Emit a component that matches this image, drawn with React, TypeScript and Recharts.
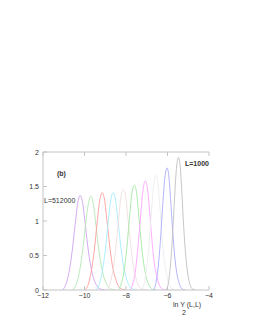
import React from 'react';
import { LineChart, Line, XAxis, YAxis } from 'recharts';

// peaks from L=512000 (left) down to L=1000 (right)
const curve512000 = [
  { x: -11.05, y: 0 }, { x: -10.9, y: 0.08 }, { x: -10.75, y: 0.25 }, { x: -10.6, y: 0.55 },
  { x: -10.45, y: 0.95 }, { x: -10.33, y: 1.25 }, { x: -10.21, y: 1.37 }, { x: -10.1, y: 1.28 },
  { x: -9.98, y: 1.0 }, { x: -9.85, y: 0.65 }, { x: -9.7, y: 0.35 }, { x: -9.55, y: 0.16 },
  { x: -9.4, y: 0.06 }, { x: -9.2, y: 0.01 }, { x: -9.0, y: 0 },
];
const curve256000 = [
  { x: -10.55, y: 0 }, { x: -10.4, y: 0.08 }, { x: -10.25, y: 0.25 }, { x: -10.1, y: 0.55 },
  { x: -9.95, y: 0.95 }, { x: -9.82, y: 1.24 }, { x: -9.7, y: 1.36 }, { x: -9.59, y: 1.27 },
  { x: -9.47, y: 1.0 }, { x: -9.34, y: 0.65 }, { x: -9.19, y: 0.35 }, { x: -9.04, y: 0.16 },
  { x: -8.89, y: 0.06 }, { x: -8.7, y: 0.01 }, { x: -8.5, y: 0 },
];
const curve128000 = [
  { x: -9.97, y: 0 }, { x: -9.82, y: 0.08 }, { x: -9.68, y: 0.26 }, { x: -9.53, y: 0.57 },
  { x: -9.39, y: 0.98 }, { x: -9.27, y: 1.29 }, { x: -9.15, y: 1.41 }, { x: -9.04, y: 1.32 },
  { x: -8.93, y: 1.04 }, { x: -8.8, y: 0.68 }, { x: -8.66, y: 0.36 }, { x: -8.51, y: 0.17 },
  { x: -8.37, y: 0.06 }, { x: -8.18, y: 0.01 }, { x: -8.0, y: 0 },
];
const curve64000 = [
  { x: -9.44, y: 0 }, { x: -9.29, y: 0.08 }, { x: -9.15, y: 0.26 }, { x: -9.0, y: 0.57 },
  { x: -8.86, y: 0.98 }, { x: -8.74, y: 1.29 }, { x: -8.62, y: 1.41 }, { x: -8.51, y: 1.32 },
  { x: -8.4, y: 1.04 }, { x: -8.27, y: 0.68 }, { x: -8.13, y: 0.36 }, { x: -7.98, y: 0.17 },
  { x: -7.84, y: 0.06 }, { x: -7.65, y: 0.01 }, { x: -7.47, y: 0 },
];
const curve32000 = [
  { x: -8.92, y: 0 }, { x: -8.78, y: 0.08 }, { x: -8.64, y: 0.27 }, { x: -8.5, y: 0.59 },
  { x: -8.36, y: 1.01 }, { x: -8.25, y: 1.34 }, { x: -8.13, y: 1.46 }, { x: -8.02, y: 1.37 },
  { x: -7.92, y: 1.08 }, { x: -7.79, y: 0.7 }, { x: -7.66, y: 0.37 }, { x: -7.52, y: 0.17 },
  { x: -7.38, y: 0.06 }, { x: -7.2, y: 0.01 }, { x: -7.02, y: 0 },
];
const curve16000 = [
  { x: -8.36, y: 0 }, { x: -8.23, y: 0.09 }, { x: -8.09, y: 0.28 }, { x: -7.96, y: 0.61 },
  { x: -7.83, y: 1.05 }, { x: -7.72, y: 1.39 }, { x: -7.6, y: 1.52 }, { x: -7.5, y: 1.43 },
  { x: -7.4, y: 1.13 }, { x: -7.28, y: 0.73 }, { x: -7.15, y: 0.39 }, { x: -7.02, y: 0.18 },
  { x: -6.89, y: 0.07 }, { x: -6.72, y: 0.01 }, { x: -6.55, y: 0 },
];
const curve8000 = [
  { x: -7.8, y: 0 }, { x: -7.67, y: 0.09 }, { x: -7.54, y: 0.29 }, { x: -7.42, y: 0.64 },
  { x: -7.29, y: 1.09 }, { x: -7.18, y: 1.45 }, { x: -7.07, y: 1.58 }, { x: -6.97, y: 1.48 },
  { x: -6.87, y: 1.17 }, { x: -6.76, y: 0.76 }, { x: -6.64, y: 0.4 }, { x: -6.51, y: 0.19 },
  { x: -6.39, y: 0.07 }, { x: -6.22, y: 0.01 }, { x: -6.06, y: 0 },
];
const curve4000 = [
  { x: -7.25, y: 0 }, { x: -7.13, y: 0.09 }, { x: -7.01, y: 0.31 }, { x: -6.89, y: 0.67 },
  { x: -6.77, y: 1.15 }, { x: -6.67, y: 1.52 }, { x: -6.56, y: 1.66 }, { x: -6.47, y: 1.56 },
  { x: -6.37, y: 1.23 }, { x: -6.27, y: 0.8 }, { x: -6.15, y: 0.42 }, { x: -6.03, y: 0.2 },
  { x: -5.91, y: 0.07 }, { x: -5.75, y: 0.01 }, { x: -5.6, y: 0 },
];
const curve2000 = [
  { x: -6.67, y: 0 }, { x: -6.56, y: 0.1 }, { x: -6.45, y: 0.33 }, { x: -6.34, y: 0.72 },
  { x: -6.23, y: 1.23 }, { x: -6.13, y: 1.62 }, { x: -6.02, y: 1.77 }, { x: -5.94, y: 1.66 },
  { x: -5.85, y: 1.31 }, { x: -5.75, y: 0.85 }, { x: -5.64, y: 0.45 }, { x: -5.53, y: 0.21 },
  { x: -5.42, y: 0.08 }, { x: -5.27, y: 0.01 }, { x: -5.12, y: 0 },
];
const curve1000 = [
  { x: -6.06, y: 0 }, { x: -5.96, y: 0.1 }, { x: -5.86, y: 0.35 }, { x: -5.76, y: 0.78 },
  { x: -5.66, y: 1.33 }, { x: -5.57, y: 1.76 }, { x: -5.47, y: 1.92 }, { x: -5.39, y: 1.8 },
  { x: -5.31, y: 1.42 }, { x: -5.22, y: 0.92 }, { x: -5.12, y: 0.49 }, { x: -5.02, y: 0.23 },
  { x: -4.92, y: 0.08 }, { x: -4.78, y: 0.01 }, { x: -4.65, y: 0 },
];

const series = [
  { data: curve512000, color: '#cfa2f2' },
  { data: curve256000, color: '#b4e8b4' },
  { data: curve128000, color: '#ff9c9c' },
  { data: curve64000, color: '#a4ecff' },
  { data: curve32000, color: '#f2dede' },
  { data: curve16000, color: '#a4e8a4' },
  { data: curve8000, color: '#ffa4ff' },
  { data: curve4000, color: '#ececec' },
  { data: curve2000, color: '#ababff' },
  { data: curve1000, color: '#bfbfbf' },
];

const xTicks = [-12, -10, -8, -6, -4];
const yTicks = [0, 0.5, 1, 1.5, 2];

const FONT = '"Liberation Sans", Arial, sans-serif';
const frame = '#c4c4c4';
const ink = '#333';

const BottomTick = (props: any) => {
  const { x, y, payload } = props;
  return (
    <g>
      <line x1={x} y1={y} x2={x} y2={y - 4} stroke={frame} />
      <text x={x} y={y + 8} textAnchor="middle" fontSize={7} fontFamily={FONT} fill={ink}>
        {payload.value === 0 ? '0' : '\u2212' + Math.abs(payload.value)}
      </text>
    </g>
  );
};

const TopTick = (props: any) => {
  const { x, y } = props;
  return <line x1={x} y1={y} x2={x} y2={y + 4} stroke={frame} />;
};

const LeftTick = (props: any) => {
  const { x, y, payload } = props;
  return (
    <g>
      <line x1={x} y1={y} x2={x + 4} y2={y} stroke={frame} />
      <text x={x - 4} y={y + 2.5} textAnchor="end" fontSize={7} fontFamily={FONT} fill={ink}>
        {payload.value}
      </text>
    </g>
  );
};

const RightTick = (props: any) => {
  const { x, y } = props;
  return <line x1={x} y1={y} x2={x - 4} y2={y} stroke={frame} />;
};

const label = (left: number, top: number, bold = false): React.CSSProperties => ({
  position: 'absolute',
  left,
  top,
  fontFamily: FONT,
  fontSize: 7,
  fontWeight: bold ? 'bold' : 'normal',
  color: ink,
  whiteSpace: 'nowrap',
  lineHeight: '8px',
});

export default function App() {
  return (
    <div style={{ position: 'absolute', left: 0, top: 0, width: 253, height: 327, background: '#fff' }}>
      <LineChart width={253} height={327} margin={{ top: 146, right: 44, left: 0, bottom: 0 }}>
        <XAxis
          xAxisId={0}
          dataKey="x"
          type="number"
          domain={[-12, -4]}
          ticks={xTicks}
          allowDataOverflow
          height={37}
          tickSize={0}
          tickMargin={0}
          tickLine={false}
          axisLine={{ stroke: frame }}
          tick={<BottomTick />}
        />
        <XAxis
          xAxisId="top"
          orientation="top"
          dataKey="x"
          type="number"
          domain={[-12, -4]}
          ticks={xTicks}
          allowDataOverflow
          height={6}
          tickSize={0}
          tickMargin={0}
          tickLine={false}
          axisLine={{ stroke: frame }}
          tick={<TopTick />}
        />
        <YAxis
          yAxisId={0}
          type="number"
          domain={[0, 2]}
          ticks={yTicks}
          allowDataOverflow
          width={43}
          tickSize={0}
          tickMargin={0}
          tickLine={false}
          axisLine={{ stroke: frame }}
          tick={<LeftTick />}
        />
        <YAxis
          yAxisId="right"
          orientation="right"
          type="number"
          domain={[0, 2]}
          ticks={yTicks}
          allowDataOverflow
          width={0}
          tickSize={0}
          tickMargin={0}
          tickLine={false}
          axisLine={{ stroke: frame }}
          tick={<RightTick />}
        />
        {series.map((s, i) => (
          <Line
            key={i}
            data={s.data}
            dataKey="y"
            type="monotone"
            stroke={s.color}
            strokeWidth={0.9}
            dot={false}
            isAnimationActive={false}
          />
        ))}
      </LineChart>
      <div style={label(57, 170, true)}>(b)</div>
      <div style={label(44, 197)}>L=512000</div>
      <div style={label(185, 160, true)}>L=1000</div>
      <div style={label(173, 301)}>ln Y (L,L)</div>
      <div style={label(182, 309)}>2</div>
    </div>
  );
}
